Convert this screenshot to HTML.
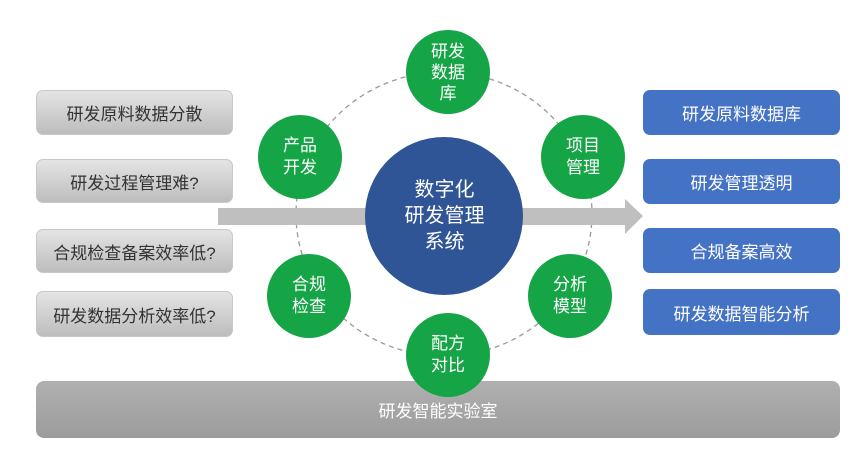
<!DOCTYPE html>
<html><head><meta charset="utf-8"><style>
body{margin:0;width:865px;height:458px;background:#fff;position:relative;overflow:hidden;font-family:"Liberation Sans","Noto Sans CJK SC",sans-serif}
.b{position:absolute;display:flex;align-items:center;justify-content:center;box-sizing:border-box;border-radius:7px}
.l{left:36px;width:197px;background:linear-gradient(#e4e4e4,#bdbdbd);border:1px solid #c8c8c8;color:#333;font-size:17px}
.r{left:643px;width:197px;background:#4472c4;color:#fff;font-size:17px}
.g{position:absolute;width:84px;height:84px;border-radius:50%;background:#15a546;color:#fff;font-size:17px;line-height:22px;display:flex;align-items:center;justify-content:center;text-align:center;z-index:2}
</style></head><body>
<div class="b" style="left:36px;top:381px;width:804px;height:57px;background:linear-gradient(#b0b0b0,#9c9c9c);color:#fff;font-size:17px;border-radius:8px">研发智能实验室</div>
<div class="b l" style="top:90px;height:45px">研发原料数据分散</div>
<div class="b l" style="top:159px;height:44px">研发过程管理难?</div>
<div class="b l" style="top:229px;height:44px">合规检查备案效率低?</div>
<div class="b l" style="top:291px;height:46px">研发数据分析效率低?</div>
<div class="b r" style="top:90px;height:45px">研发原料数据库</div>
<div class="b r" style="top:159px;height:45px">研发管理透明</div>
<div class="b r" style="top:228px;height:45px">合规备案高效</div>
<div class="b r" style="top:289px;height:46px">研发数据智能分析</div>
<svg style="position:absolute;left:0;top:0" width="865" height="458">
<ellipse cx="444" cy="214" rx="148" ry="142" fill="none" stroke="#999" stroke-width="1.3" stroke-dasharray="5,4"/>
<rect x="218" y="208" width="408" height="17" fill="#bfbfbf"/>
<polygon points="625,199 643,216 625,234" fill="#bfbfbf"/>
<circle cx="444" cy="216" r="79" fill="#2f5597"/>
</svg>
<div style="position:absolute;left:365px;top:177px;width:159px;text-align:center;color:#fff;font-size:20px;line-height:26px">数字化<br>研发管理<br>系统</div>
<div class="g" style="left:406px;top:30px;line-height:21px">研发<br>数据<br>库</div>
<div class="g" style="left:258px;top:115px">产品<br>开发</div>
<div class="g" style="left:541px;top:115px">项目<br>管理</div>
<div class="g" style="left:267px;top:254px">合规<br>检查</div>
<div class="g" style="left:528px;top:254px">分析<br>模型</div>
<div class="g" style="left:406px;top:313px">配方<br>对比</div>
</body></html>
